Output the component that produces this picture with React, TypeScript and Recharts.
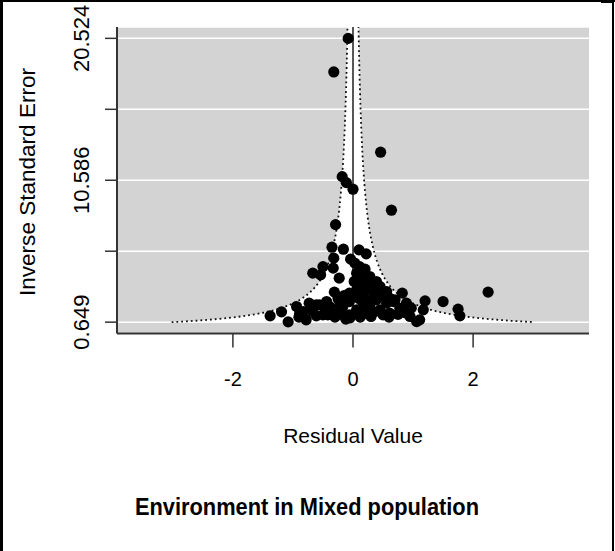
import {
  Area,
  CartesianGrid,
  ComposedChart,
  ReferenceLine,
  Scatter,
  XAxis,
  YAxis,
} from "recharts";

// residual value (x) and inverse standard error (y) of each study
const residual = [
  -0.08, -0.32, 0.46, -0.18, -0.11, 0.0, 0.64, -0.29, -0.35, -0.16,
  0.1, 0.22, -0.32, -0.5, -0.67, -0.54, -0.33, -0.23, -0.04, 0.03,
  0.11, 0.2, 0.28, 0.17, 0.39, 0.08, 0.33, 0.45, 0.56, -0.31,
  0.82, 2.25, -0.06, 0.06, 0.17, 0.7, 0.89, 1.2, 1.5, 1.75,
  1.78, 1.17, 0.86, 1.06, 1.11, -1.38, -1.19, -1.08, -0.94, -0.89,
  -0.73, -0.78, -0.67, -0.56, -0.5, -0.39, -0.28, -0.12, -0.17, -0.06,
  0.23, 0.39, 0.5, 0.61, 0.67, 0.17, 0.06, 0.28, 0.33, 0.56,
  -0.42, -0.61, -0.17, 0.14, 0.45, 0.78, 0.97, 0.0, 0.22, 0.06,
  -0.11, -0.44, -0.61, -0.22, 0.14, 0.33, 0.5, 0.61, -0.83, -0.06,
  -0.3, -0.05, 0.3, 0.6, 0.75, -0.45, 0.15, 0.35, -0.7, 0.9,
  -0.15, 0.1, 0.45, 0.25, -0.25, 0.02, 0.2, 0.12, -0.9, 0.95,
];
const inverseSE = [
  20.52, 18.17, 12.55, 10.84, 10.42, 9.96, 8.49, 7.48, 5.9, 5.76,
  5.71, 5.43, 5.13, 4.54, 4.08, 3.96, 4.43, 3.73, 5.06, 4.78,
  4.54, 4.36, 3.84, 3.61, 3.49, 3.14, 2.91, 3.14, 2.79, 2.75,
  2.68, 2.75, 2.68, 2.91, 2.68, 2.21, 1.98, 2.14, 2.09, 1.56,
  1.09, 1.51, 1.32, 0.69, 0.81, 1.09, 1.37, 0.67, 1.74, 1.23,
  1.98, 0.81, 1.39, 1.86, 1.16, 1.74, 1.28, 0.86, 1.74, 2.09,
  1.28, 2.21, 1.16, 1.28, 2.09, 1.86, 1.51, 1.74, 2.33, 1.98,
  1.16, 1.09, 1.16, 1.16, 1.51, 1.63, 1.63, 2.44, 2.91, 4.08,
  2.21, 2.09, 1.86, 1.86, 3.84, 3.38, 2.68, 2.33, 1.39, 1.16,
  1.0, 0.95, 1.05, 1.0, 1.2, 1.45, 1.4, 1.35, 1.6, 1.4,
  2.5, 2.3, 2.5, 2.1, 2.3, 3.5, 3.2, 1.0, 1.0, 1.05,
];

// pseudo confidence region (residual +/- 1.96 / inverse SE)
const funnelX = [
  -3.02, -2.7, -2.4, -2.1, -1.8, -1.5, -1.25, -1.0, -0.85, -0.7, -0.58,
  -0.48, -0.4, -0.33, -0.27, -0.22, -0.18, -0.15, -0.125, -0.105, -0.09,
  -0.075, 0, 0.075, 0.09, 0.105, 0.125, 0.15, 0.18, 0.22, 0.27, 0.33,
  0.4, 0.48, 0.58, 0.7, 0.85, 1.0, 1.25, 1.5, 1.8, 2.1, 2.4, 2.7, 3.02,
];
const funnelY = [
  0.649, 0.726, 0.817, 0.933, 1.089, 1.307, 1.568, 1.96, 2.306, 2.8, 3.379,
  4.083, 4.9, 5.939, 7.259, 8.909, 10.889, 13.067, 15.68, 18.667, 21.778,
  26.133, 26.133, 26.133, 21.778, 18.667, 15.68, 13.067, 10.889, 8.909,
  7.259, 5.939, 4.9, 4.083, 3.379, 2.8, 2.306, 1.96, 1.568, 1.307, 1.089,
  0.933, 0.817, 0.726, 0.649,
];

const xTicks = [-2, 0, 2];
const yTicks = [0.649, 5.6175, 10.586, 15.5545, 20.524];
const yTickLabels = ["0.649", "", "10.586", "", "20.524"];

const points = residual.map((x, i) => ({ x, y: inverseSE[i] }));
const funnel = funnelX.map((x, i) => ({ x, y: funnelY[i] }));

const font = "'Liberation Sans', Arial, sans-serif";

function YTick(props: any) {
  const { x, y, payload } = props;
  const label = yTickLabels[yTicks.indexOf(payload.value)] ?? "";
  return (
    <text
      x={x}
      y={y}
      transform={`rotate(-90, ${x}, ${y})`}
      textAnchor="middle"
      fontSize={22}
      fill="#000"
    >
      {label}
    </text>
  );
}

function Dot(props: any) {
  return <circle cx={props.cx} cy={props.cy} r={5.6} fill="#000" />;
}

export default function App() {
  return (
    <div
      style={{
        position: "absolute",
        left: 0,
        top: 0,
        width: 615,
        height: 551,
        background: "#fff",
        fontFamily: font,
      }}
    >
      <ComposedChart
        width={615}
        height={551}
        margin={{ top: 27, right: 26, left: 0, bottom: 117.5 }}
      >
        <CartesianGrid
          vertical={false}
          stroke="#fff"
          strokeWidth={1.5}
          fill="#d3d3d3"
          fillOpacity={1}
        />
        <XAxis
          type="number"
          dataKey="x"
          domain={[-3.93, 3.93]}
          ticks={xTicks}
          allowDataOverflow
          height={100}
          tickSize={14}
          tickMargin={24}
          tick={{ fontSize: 20, fill: "#000" }}
          axisLine={{ stroke: "#333", strokeWidth: 2 }}
          tickLine={{ stroke: "#333", strokeWidth: 1.5 }}
        />
        <YAxis
          type="number"
          dataKey="y"
          domain={[-0.146, 21.319]}
          ticks={yTicks}
          allowDataOverflow
          width={117}
          tickSize={12}
          tickMargin={16}
          tick={<YTick />}
          axisLine={{ stroke: "#333", strokeWidth: 2 }}
          tickLine={{ stroke: "#333", strokeWidth: 1.5 }}
        />
        <Area
          data={funnel}
          dataKey="y"
          type="monotone"
          baseValue={0.649}
          fill="#fff"
          fillOpacity={1}
          stroke="#111"
          strokeWidth={1.8}
          strokeDasharray="1.8 3"
          dot={false}
          activeDot={false}
          isAnimationActive={false}
        />
        <ReferenceLine
          segment={[
            { x: 0, y: 0.649 },
            { x: 0, y: 21.319 },
          ]}
          stroke="#444"
          strokeWidth={1.8}
        />
        <Scatter data={points} shape={Dot} isAnimationActive={false} />
      </ComposedChart>

      <svg
        width={615}
        height={551}
        style={{ position: "absolute", left: 0, top: 0, pointerEvents: "none" }}
      >
        <text
          x={35}
          y={182}
          transform="rotate(-90, 35, 182)"
          textAnchor="middle"
          fontSize={22}
          fill="#000"
          textLength={228}
          lengthAdjust="spacingAndGlyphs"
        >
          Inverse Standard Error
        </text>
        <text x={353} y={443} textAnchor="middle" fontSize={21} fill="#000">
          Residual Value
        </text>
        <text
          x={307}
          y={515}
          textAnchor="middle"
          fontSize={23}
          fontWeight="bold"
          fill="#000"
          textLength={344}
          lengthAdjust="spacingAndGlyphs"
        >
          Environment in Mixed population
        </text>
        <rect x={0} y={0} width={615} height={2} fill="#000" />
        <rect x={0} y={0} width={3} height={551} fill="#000" />
        <rect x={612} y={0} width={2} height={551} fill="#000" />
        <rect x={601} y={0} width={13} height={3} fill="#000" />
      </svg>
    </div>
  );
}
